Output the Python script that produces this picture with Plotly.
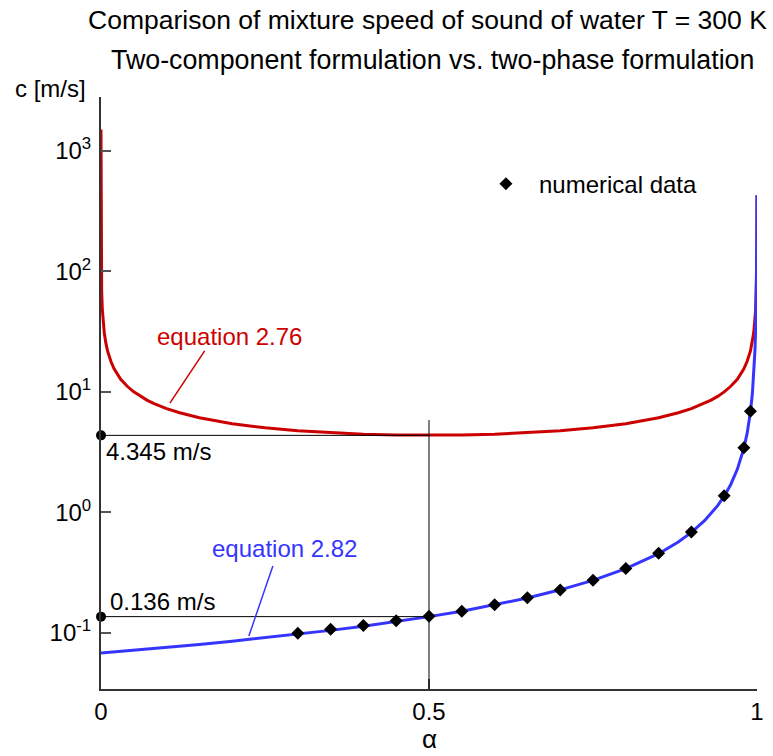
import plotly.graph_objects as go

# ---- data ----
alpha_red = [0, 0.00001, 0.00003, 0.0001, 0.0003, 0.001, 0.002, 0.005, 0.0075, 0.01, 0.015,
             0.02, 0.03, 0.04, 0.05, 0.06, 0.07, 0.08, 0.1, 0.12, 0.15, 0.2, 0.25, 0.3, 0.35,
             0.4, 0.45, 0.5, 0.55, 0.6, 0.65, 0.7, 0.75, 0.8, 0.85, 0.88, 0.9, 0.92, 0.93,
             0.94, 0.95, 0.96, 0.97, 0.98, 0.985, 0.99, 0.9925, 0.995, 0.998, 0.999, 0.9995,
             0.9998, 0.9999, 0.99995, 0.99998, 0.99999, 1]
c_red = [1500, 620, 380, 215, 125, 68.5, 48.5, 30.8, 25.2, 21.8, 17.9,
         15.5, 12.7, 11.1, 9.97, 9.15, 8.52, 8.01, 7.24, 6.69, 6.08, 5.43, 5.02, 4.74, 4.56,
         4.44, 4.37, 4.345, 4.37, 4.44, 4.56, 4.74, 5.02, 5.43, 6.08, 6.69, 7.24, 8.01, 8.52,
         9.15, 9.97, 11.1, 12.7, 15.5, 17.9, 21.8, 25.2, 30.8, 48.3, 67.7, 94.6,
         144, 194, 249, 321, 363, 428]

alpha_blue = [0, 0.05, 0.1, 0.15, 0.2, 0.25, 0.3, 0.35, 0.4, 0.45, 0.5, 0.55, 0.6, 0.65,
              0.7, 0.75, 0.8, 0.85, 0.88, 0.9, 0.92, 0.94, 0.95, 0.96, 0.97, 0.98, 0.985,
              0.99, 0.993, 0.995, 0.997, 0.998, 0.999, 0.9995, 0.9998, 0.9999, 1]
c_blue = [0.068, 0.0716, 0.0756, 0.080, 0.085, 0.0907, 0.0971, 0.1046, 0.1133, 0.1236, 0.136,
          0.151, 0.170, 0.194, 0.227, 0.272, 0.340, 0.453, 0.567, 0.680, 0.850, 1.133, 1.36,
          1.70, 2.27, 3.40, 4.53, 6.80, 9.71, 13.6, 22.6, 34.0, 67, 130, 266, 362, 428]

alpha_num = [0.3, 0.35, 0.4, 0.45, 0.5, 0.55, 0.6, 0.65, 0.7, 0.75, 0.8, 0.85, 0.9, 0.95, 0.98, 0.99]
c_num = [0.099, 0.107, 0.115, 0.126, 0.137, 0.151, 0.171, 0.195, 0.226, 0.272, 0.342, 0.456,
         0.684, 1.37, 3.43, 6.9]

c_min_red = 4.345     # two-component value at alpha = 0.5
c_mid_blue = 0.136    # two-phase value at alpha = 0.5
alpha_mid = 0.5

x_ticks = [0, 0.5, 1]
x_ticktext = ["0", "0.5", "1"]
y_ticks = [0.1, 1, 10, 100, 1000]
y_ticktext = ["10<sup>-1</sup>", "10<sup>0</sup>", "10<sup>1</sup>", "10<sup>2</sup>", "10<sup>3</sup>"]

RED = "#CC0000"
BLUE = "#3535FF"
FONT = "Liberation Sans, Arial, sans-serif"
Y_RANGE = [-1.467, 3.446]

fig = go.Figure()

fig.add_trace(go.Scatter(x=alpha_red, y=c_red, mode="lines",
                         line=dict(color=RED, width=3), showlegend=False))
fig.add_trace(go.Scatter(x=alpha_blue, y=c_blue, mode="lines",
                         line=dict(color=BLUE, width=3), showlegend=False))
fig.add_trace(go.Scatter(x=alpha_num, y=c_num, mode="markers", name="numerical data",
                         marker=dict(symbol="diamond", size=10, color="black"),
                         cliponaxis=False, showlegend=True))

# reference lines
fig.add_shape(type="line", x0=0, x1=alpha_mid, y0=c_min_red, y1=c_min_red,
              line=dict(color="black", width=1))
fig.add_shape(type="line", x0=0, x1=alpha_mid, y0=c_mid_blue, y1=c_mid_blue,
              line=dict(color="black", width=1))
fig.add_shape(type="line", x0=alpha_mid, x1=alpha_mid, y0=10 ** Y_RANGE[0], y1=5.82,
              line=dict(color="black", width=1))

# dots on the axis
fig.add_trace(go.Scatter(x=[0, 0], y=[c_min_red, c_mid_blue], mode="markers",
                         marker=dict(symbol="circle", size=10, color="black"),
                         cliponaxis=False, showlegend=False))

# pointer lines
fig.add_shape(type="line", x0=0.158, y0=21.8, x1=0.105, y1=8.05,
              line=dict(color=RED, width=1.5))
fig.add_shape(type="line", x0=0.262, y0=0.3576, x1=0.2254, y1=0.0939,
              line=dict(color=BLUE, width=1.5))

ann = []
ann.append(dict(text="equation 2.76", x=0.1957, y=1.462, xref="x", yref="y",
                showarrow=False, font=dict(family=FONT, size=24, color=RED),
                xanchor="center", yanchor="middle"))
ann.append(dict(text="equation 2.82", x=0.28, y=-0.305, xref="x", yref="y",
                showarrow=False, font=dict(family=FONT, size=24, color=BLUE),
                xanchor="center", yanchor="middle"))
ann.append(dict(text="4.345 m/s", x=0.0046, y=0.508, xref="x", yref="y",
                showarrow=False, font=dict(family=FONT, size=24, color="black"),
                xanchor="left", yanchor="middle"))
ann.append(dict(text="0.136 m/s", x=0.0107, y=-0.739, xref="x", yref="y",
                showarrow=False, font=dict(family=FONT, size=24, color="black"),
                xanchor="left", yanchor="middle"))
ann.append(dict(text="Comparison of mixture speed of sound of water T = 300 K",
                x=0.497, y=1.130, xref="paper", yref="paper", showarrow=False,
                font=dict(family=FONT, size=26.5, color="black"),
                xanchor="center", yanchor="middle"))
ann.append(dict(text="Two-component formulation vs. two-phase formulation",
                x=0.505, y=1.062, xref="paper", yref="paper", showarrow=False,
                font=dict(family=FONT, size=26.8, color="black"),
                xanchor="center", yanchor="middle"))
ann.append(dict(text="c [m/s]", x=-0.0198, y=1.0152, xref="paper", yref="paper",
                showarrow=False, font=dict(family=FONT, size=24, color="black"),
                xanchor="right", yanchor="middle"))
ann.append(dict(text="α", x=0.5, y=-0.0845, xref="paper", yref="paper",
                showarrow=False, font=dict(family=FONT, size=26, color="black"),
                xanchor="center", yanchor="middle"))

fig.update_layout(
    width=773, height=756,
    margin=dict(l=101, r=16, t=97, b=67, autoexpand=False),
    paper_bgcolor="white", plot_bgcolor="white",
    font=dict(family=FONT, size=24, color="black"),
    annotations=ann,
    legend=dict(x=0.567, y=0.891, xanchor="left", yanchor="top",
                bgcolor="rgba(0,0,0,0)", font=dict(family=FONT, size=24, color="black"),
                itemwidth=56),
    xaxis=dict(range=[0, 1], showline=True, linecolor="#333333", linewidth=2,
               ticks="inside", ticklen=10, tickwidth=1.5, tickcolor="#555555",
               tickvals=x_ticks, ticktext=x_ticktext, showgrid=False, zeroline=False,
               tickfont=dict(family=FONT, size=24), automargin=False),
    yaxis=dict(type="log", range=Y_RANGE, showline=True, linecolor="#333333", linewidth=2,
               ticks="inside", ticklen=10, tickwidth=1.5, tickcolor="#555555",
               tickvals=y_ticks, ticktext=y_ticktext, showgrid=False, zeroline=False,
               tickfont=dict(family=FONT, size=24), automargin=False,
               ticklabelstandoff=3),
)

fig.write_html("out.html")
